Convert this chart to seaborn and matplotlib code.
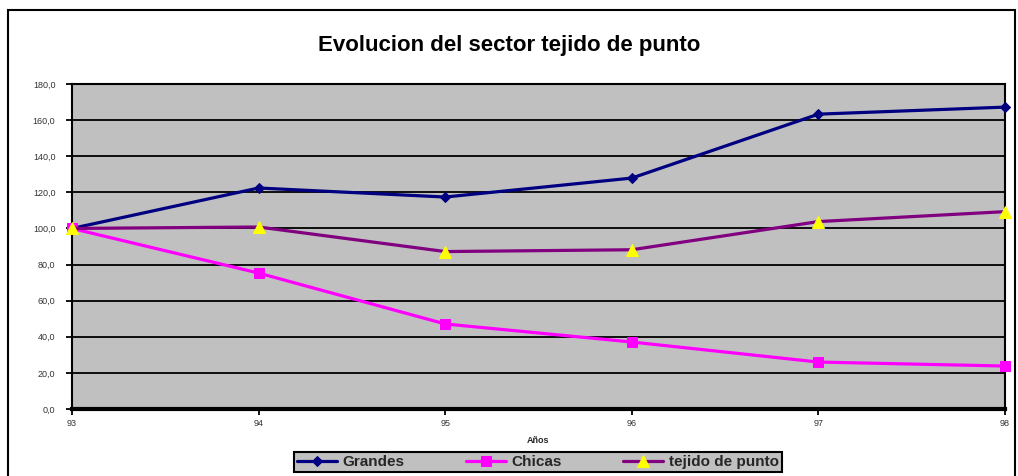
import matplotlib
matplotlib.use("Agg")
import matplotlib.pyplot as plt
from matplotlib.patches import Rectangle
from matplotlib.ticker import FuncFormatter
import seaborn as sns
import pandas as pd

years = [93, 94, 95, 96, 97, 98]
grandes = [100.0, 122.4, 117.4, 127.9, 163.3, 167.2]
chicas = [100.0, 75.3, 47.1, 37.1, 26.0, 23.8]
tejido = [100.0, 100.8, 87.2, 88.2, 103.8, 109.3]
series_names = ["Grandes", "Chicas", "tejido de punto"]

sns.set_theme(style="white")
plt.rcParams['font.family'] = ['Liberation Sans', 'DejaVu Sans']

fig = plt.figure(figsize=(10.18, 4.76), dpi=100)
ax = fig.add_axes([72/1018, 1 - 409/476, (1005-72)/1018, (409-84)/476])
ax.set_facecolor("#c0c0c0")

df = pd.DataFrame({"year": years, "Grandes": grandes, "Chicas": chicas, "tejido de punto": tejido})

styles = {
    "Grandes": dict(color="#000080", marker="D", markersize=5.5, markerfacecolor="#000080", markeredgecolor="#000080"),
    "Chicas": dict(color="#ff00ff", marker="s", markersize=7, markerfacecolor="#ff00ff", markeredgecolor="#ff00ff"),
    "tejido de punto": dict(color="#800080", marker="^", markersize=9, markerfacecolor="#ffff00", markeredgecolor="#ffff00"),
}
for name in series_names:
    sns.lineplot(data=df, x="year", y=name, ax=ax, linewidth=2.3, label=name, clip_on=False, zorder=3, **styles[name])

ax.set_xlim(93, 98)
ax.set_ylim(0, 180)
ax.set_xticks(years)
ax.set_yticks(range(0, 181, 20))
ax.yaxis.set_major_formatter(FuncFormatter(lambda v, p: f"{v:.1f}".replace(".", ",")))
ax.grid(axis="y", color="black", linewidth=1.3)
ax.grid(axis="x", visible=False)
for s in ["left", "right", "top"]:
    ax.spines[s].set_color("black")
    ax.spines[s].set_linewidth(1.5)
ax.spines["bottom"].set_color("black")
ax.spines["bottom"].set_linewidth(3)
ax.tick_params(axis="both", which="both", direction="out", length=4, width=1.3, color="black",
               labelsize=6.5, labelcolor="#333333", left=True, bottom=True)
ax.tick_params(axis="y", pad=8)
ax.tick_params(axis="x", pad=3)
ax.set_xlabel("Años", fontsize=6.5, fontweight="bold", labelpad=6)
ax.set_ylabel("")

fig.text(0.5, 1 - 45/476, "Evolucion del sector tejido de punto", ha="center", va="center",
         fontsize=16, fontweight="bold", color="black")

# outer frame
fig.patches.append(Rectangle((8/1018, -0.05), (1015-8)/1018, 1.05 - 10/476, transform=fig.transFigure,
                             fill=False, edgecolor="black", linewidth=1.5, zorder=0))

handles, labels = ax.get_legend_handles_labels()
leg = fig.legend(handles, labels, loc="center", bbox_to_anchor=(538/1018, 1 - 462/476), ncol=3,
                 frameon=True, fancybox=False, facecolor="#c0c0c0", edgecolor="black",
                 prop={"weight": "bold", "size": 11}, handlelength=2.6, handletextpad=0.4,
                 columnspacing=4.0, borderpad=0.2, borderaxespad=0.0)
leg.get_frame().set_linewidth(1.5)
leg.get_frame().set_alpha(1)
if ax.get_legend():
    ax.get_legend().remove()

fig.savefig("out.png", dpi=100)
